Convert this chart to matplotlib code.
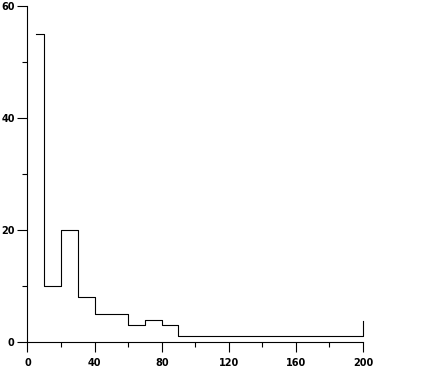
import matplotlib.pyplot as plt
from matplotlib.ticker import MultipleLocator

# step outline: left edge of each bin and its count (last value = end riser at 200)
edges = [5, 10, 20, 30, 40, 60, 70, 80, 90, 200]
counts = [55, 10, 20, 8, 5, 3, 4, 3, 1, 3.7]

xticks = [0, 40, 80, 120, 160, 200]
yticks = [0, 20, 40, 60]

fig = plt.figure(figsize=(4.27, 3.78), dpi=100)
ax = fig.add_axes([27.5 / 427, 36 / 378, (363 - 27.5) / 427, (342 - 6) / 378])

ax.step(edges, counts, where='post', color='black', lw=0.8, clip_on=False)

ax.set_xlim(0, 200)
ax.set_ylim(0, 60)
ax.set_xticks(xticks)
ax.set_yticks(yticks)
ax.xaxis.set_minor_locator(MultipleLocator(20))
ax.yaxis.set_minor_locator(MultipleLocator(10))

for s in ['top', 'right']:
    ax.spines[s].set_visible(False)
for s in ['left', 'bottom']:
    ax.spines[s].set_linewidth(0.8)

ax.tick_params(which='major', direction='out', length=7.2, width=0.8)
ax.tick_params(which='minor', direction='out', length=3.6, width=0.8)
ax.tick_params(axis='x', pad=4)
ax.tick_params(axis='y', pad=2)
for lab in ax.get_xticklabels() + ax.get_yticklabels():
    lab.set_family(['Liberation Sans Narrow', 'DejaVu Sans'])
    lab.set_fontweight('bold')
    lab.set_fontsize(7)

plt.savefig('out.png', dpi=100)
